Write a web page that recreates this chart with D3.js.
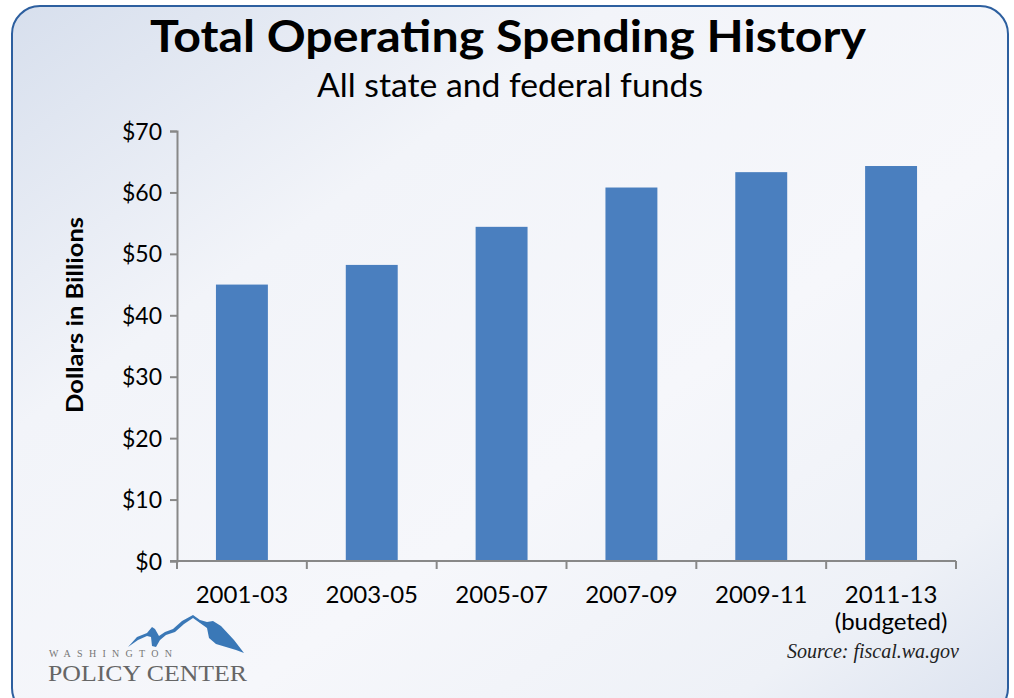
<!DOCTYPE html>
<html><head><meta charset="utf-8">
<script src="https://cdn.jsdelivr.net/npm/d3@7"></script>
<style>html,body{margin:0;padding:0;background:#fff;}svg{display:block;}</style>
</head><body>
<script>
const categories = ["2001-03","2003-05","2005-07","2007-09","2009-11","2011-13"];
const values = [45.0, 48.2, 54.4, 60.8, 63.3, 64.3];
const yTicks = [0,10,20,30,40,50,60,70];
const title = "Total Operating Spending History";
const subtitle = "All state and federal funds";
const yTitle = "Dollars in Billions";
const note = "(budgeted)";
const source = "Source: fiscal.wa.gov";

const W = 1014, H = 698;
const svg = d3.select("body").append("svg").attr("width", W).attr("height", H);
const defs = svg.append("defs");
const grad = defs.append("linearGradient").attr("id","bg").attr("x1","0").attr("y1","0").attr("x2","1").attr("y2","1");
[["0%","#d7dfed"],["30%","#f2f4f9"],["60%","#f6f7fb"],["85%","#eef1f7"],["100%","#dbe2ef"]].forEach(([o,c])=>grad.append("stop").attr("offset",o).attr("stop-color",c));

svg.append("rect").attr("x",12).attr("y",6).attr("width",996).attr("height",710).attr("rx",28)
  .attr("fill","url(#bg)").attr("stroke","#2d5f9f").attr("stroke-width",2);

const font = "Lato, 'Open Sans', sans-serif";

svg.append("text").attr("x",508).attr("y",52).attr("text-anchor","middle")
  .attr("font-family",font).attr("font-weight","bold").attr("font-size",44)
  .attr("textLength",716).attr("lengthAdjust","spacingAndGlyphs").attr("fill","#000").text(title);
svg.append("text").attr("x",510).attr("y",97).attr("text-anchor","middle")
  .attr("font-family",font).attr("font-size",32)
  .attr("textLength",386).attr("lengthAdjust","spacingAndGlyphs").attr("fill","#000").text(subtitle);

const x = d3.scaleBand().domain(categories).range([177,956]).paddingInner(0.6).paddingOuter(0.3);
const y = d3.scaleLinear().domain([0,70]).range([561,131]);

const g = svg.append("g");
g.selectAll("rect.bar").data(values).enter().append("rect").attr("class","bar")
  .attr("x",(d,i)=>x(categories[i])).attr("width",x.bandwidth())
  .attr("y",d=>y(d)).attr("height",d=>y(0)-y(d)).attr("fill","#4a7fbf");

const yAxis = g.append("g").attr("transform","translate(177,0)")
  .call(d3.axisLeft(y).tickValues(yTicks).tickSize(7).tickPadding(8).tickFormat(d=>"$"+d));
yAxis.select(".domain").attr("stroke","#888").attr("stroke-width",2);
yAxis.selectAll(".tick line").attr("stroke","#888").attr("stroke-width",2);
yAxis.selectAll(".tick text").attr("font-family",font).attr("font-size",23).attr("fill","#000").attr("dy","0.35em");

// x axis with ticks at band boundaries
const xb = d3.scaleLinear().domain([0,categories.length]).range([177,956]);
const xAxis = g.append("g").attr("transform","translate(0,561)");
xAxis.append("line").attr("x1",170).attr("x2",956).attr("stroke","#888").attr("stroke-width",2);
xAxis.selectAll("line.tk").data(d3.range(categories.length+1)).enter().append("line").attr("class","tk")
  .attr("x1",d=>xb(d)).attr("x2",d=>xb(d)).attr("y1",0).attr("y2",8).attr("stroke","#888").attr("stroke-width",2);
xAxis.selectAll("text.lbl").data(categories).enter().append("text").attr("class","lbl")
  .attr("x",d=>x(d)+x.bandwidth()/2).attr("y",42).attr("text-anchor","middle")
  .attr("font-family",font).attr("font-size",24).attr("fill","#000").text(d=>d);
xAxis.append("text").attr("x",x(categories[5])+x.bandwidth()/2).attr("y",69).attr("text-anchor","middle")
  .attr("font-family",font).attr("font-size",24).attr("fill","#000").text(note);

svg.append("text").attr("transform","translate(83,315) rotate(-90)").attr("text-anchor","middle")
  .attr("font-family",font).attr("font-weight","bold").attr("font-size",22)
  .attr("textLength",196).attr("lengthAdjust","spacingAndGlyphs").attr("fill","#000").text(yTitle);

svg.append("text").attr("x",959).attr("y",658).attr("text-anchor","end")
  .attr("font-family","'Liberation Serif', 'DejaVu Serif', serif").attr("font-style","italic").attr("font-size",20).attr("fill","#222").text(source);

// logo
const logo = svg.append("g");
logo.append("path").attr("fill","#3a78b7")
  .attr("d","M128,647 L137,637 L147,633 L152,627 L155,629 L159,636 L165,632 L173,629 L182,621 L193,615 L200,620 L207,622 L213,621 L221,626 L234,640 L244,653 L236,650 L226,647 L216,644 L209,638 L207,628 L200,623 L193,618 L184,624 L175,632 L166,635 L160,640 L156,647 L152,646 L151,637 L147,636 L138,640 Z");
logo.append("text").attr("x",49).attr("y",657).attr("font-family","'Liberation Serif', serif").attr("font-size",10)
  .attr("fill","#777").attr("textLength",123).attr("lengthAdjust","spacing").text("WASHINGTON");
logo.append("text").attr("x",48).attr("y",681).attr("font-family","'Liberation Serif', serif").attr("font-size",24)
  .attr("fill","#666").attr("textLength",199).attr("lengthAdjust","spacingAndGlyphs").text("POLICY CENTER");
</script>
</body></html>
